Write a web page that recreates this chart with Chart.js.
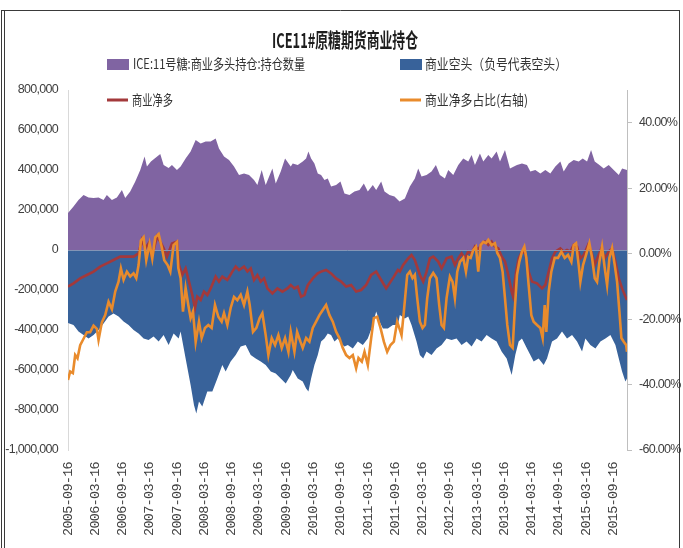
<!DOCTYPE html>
<html><head><meta charset="utf-8">
<script src="https://cdn.jsdelivr.net/npm/chart.js@4.4.1/dist/chart.umd.min.js"></script>
<style>html,body{margin:0;padding:0;background:#fff;}#wrap{position:relative;width:683px;height:548px;}</style>
</head><body><div id="wrap"><canvas id="c" width="683" height="548"></canvas></div>
<script>
// ---- data (x = months since 2005-09-16) ----
const titleText = 'ICE11#原糖期货商业持仓';
const tickDates = ['2005-09-16','2006-03-16','2006-09-16','2007-03-16','2007-09-16','2008-03-16','2008-09-16','2009-03-16','2009-09-16','2010-03-16','2010-09-16','2011-03-16','2011-09-16','2012-03-16','2012-09-16','2013-03-16','2013-09-16','2014-03-16','2014-09-16','2015-03-16','2015-09-16'];
const tickMonths = [0,6,12,18,24,30,36,42,48,54,60,66,72,78,84,90,96,102,108,114,120];
const leftTicks = [-1000000,-800000,-600000,-400000,-200000,0,200000,400000,600000,800000];
const rightTicks = [-60,-40,-20,0,20,40];

const longX = [0,1.21,2.31,3.42,4.52,5.62,6.72,7.82,8.55,9.66,10.76,11.86,12.59,13.69,14.80,15.90,16.85,17.37,18.25,19.20,20.30,21.04,22.14,22.87,23.97,
24.78,25.88,26.98,28.09,29.19,30.29,31.39,32.49,33.22,34.33,35.43,36.53,37.63,38.73,39.83,40.93,41.67,42.62,43.50,44.97,45.71,46.81,47.76,49.01,
49.45,50.55,51.65,52.39,52.90,53.49,54.22,54.96,55.69,56.43,57.16,57.89,58.99,59.95,60.83,61.93,63.03,64.14,65.09,65.97,67.07,67.81,68.91,69.64,70.74,71.84,72.95,
74.12,75.22,76.32,77.06,77.79,78.89,79.99,80.95,81.83,82.93,83.67,84.77,85.87,86.97,88.07,88.81,89.54,90.64,91.38,92.48,93.21,94.31,95.05,96.15,97.25,
98.79,99.89,100.99,101.73,102.83,103.93,105.03,106.13,107.23,108.34,109.07,110.17,111.27,112.37,113.26,114.21,115.09,115.90,116.93,117.88,118.98,120.08,121.19,121.92,123];
const longY = [185000,217000,250000,275000,262000,260000,262000,250000,275000,250000,262000,300000,260000,292000,342000,400000,467000,417000,442000,460000,480000,425000,410000,425000,400000,
417000,458000,492000,550000,533000,542000,542000,558000,508000,467000,450000,417000,375000,383000,375000,350000,325000,400000,325000,408000,333000,392000,458000,417000,
433000,425000,442000,458000,492000,458000,433000,383000,375000,350000,358000,317000,325000,342000,283000,275000,292000,300000,333000,292000,325000,300000,342000,292000,275000,267000,242000,
258000,317000,358000,408000,367000,375000,392000,425000,375000,358000,400000,375000,425000,458000,442000,475000,425000,483000,442000,475000,458000,492000,442000,500000,408000,
425000,433000,425000,392000,400000,383000,400000,383000,417000,442000,392000,433000,450000,442000,458000,442000,500000,442000,425000,408000,425000,400000,375000,408000,400000];

const shortX = [0,1.21,2.31,3.42,4.52,5.62,6.72,7.82,8.92,10.02,11.12,12.23,13.33,14.43,15.53,16.63,17.73,18.83,19.94,21.04,22.14,23.24,24.34,
24.78,25.88,26.98,27.72,28.23,28.82,29.55,30.65,31.76,32.86,33.96,34.69,35.79,36.90,38.00,39.10,40.20,41.30,42.40,43.50,44.61,45.71,46.81,47.91,49.01,
49.45,50.55,51.65,52.39,52.90,53.49,54.22,54.96,55.69,56.43,57.16,57.89,58.63,59.36,60.10,60.83,61.57,62.67,63.77,64.87,65.97,67.07,67.81,68.54,69.28,70.38,71.48,72.58,
73.02,74.12,74.86,75.59,76.69,77.43,78.16,78.89,79.99,81.10,82.20,83.30,84.40,85.50,86.60,87.70,88.81,89.91,91.01,92.11,93.21,94.31,95.41,96.52,97.62,
98.42,99.16,99.89,100.99,101.73,102.46,103.56,104.67,105.40,106.50,107.60,108.70,109.80,110.91,112.01,113.11,113.84,114.94,116.05,117.15,118.25,119.35,120.45,121.19,121.92,122.65,123];
const shortY = [-365000,-375000,-408000,-425000,-442000,-425000,-400000,-367000,-333000,-317000,-333000,-358000,-375000,-400000,-417000,-442000,-450000,-433000,-458000,-425000,-475000,-417000,-442000,
-408000,-542000,-675000,-775000,-817000,-758000,-783000,-708000,-708000,-642000,-575000,-608000,-558000,-525000,-483000,-475000,-525000,-542000,-558000,-575000,-608000,-617000,-642000,-667000,-625000,
-600000,-642000,-658000,-692000,-708000,-642000,-575000,-525000,-458000,-442000,-417000,-425000,-458000,-442000,-467000,-483000,-475000,-492000,-458000,-475000,-442000,-375000,-308000,-358000,-392000,-392000,-375000,-375000,
-325000,-342000,-333000,-375000,-458000,-525000,-542000,-508000,-525000,-492000,-475000,-442000,-450000,-442000,-475000,-458000,-483000,-442000,-458000,-425000,-442000,-458000,-508000,-542000,-625000,
-525000,-458000,-442000,-492000,-525000,-558000,-542000,-575000,-542000,-458000,-442000,-408000,-442000,-425000,-458000,-508000,-442000,-475000,-492000,-458000,-442000,-425000,-475000,-542000,-608000,-658000,-642000];

const netX = [0,1.21,2.68,4.15,5.62,7.09,8.55,10.02,11.49,12.96,14.43,15.53,16.26,16.99,17.73,18.47,19.57,20.30,21.04,21.77,22.87,23.97,
24.41,25.15,25.88,26.62,27.35,27.94,28.45,29.19,29.92,30.66,31.39,32.49,33.22,33.96,35.06,36.16,36.90,37.63,38.73,39.47,40.20,40.93,41.67,42.40,43.14,43.87,44.97,46.07,47.17,48.28,49.01,
49.82,50.55,51.29,52.02,52.76,53.86,54.96,55.69,56.79,57.89,58.99,60.10,61.20,62.30,63.40,64.50,65.60,66.71,67.81,68.91,70.01,70.74,71.70,72.58,
73.02,73.75,74.86,75.59,76.32,77.43,78.16,78.89,79.63,80.36,81.46,82.20,83.30,84.40,85.13,85.87,86.60,87.34,88.07,88.81,89.54,90.27,91.01,91.74,92.48,93.21,93.94,94.68,95.41,96.15,96.88,97.62,97.90,
98.60,99.16,99.89,100.63,101.36,102.10,103.20,104.30,105.03,105.77,106.50,107.23,108.34,109.07,109.80,110.54,111.27,112.01,112.74,113.48,114.43,115.16,115.90,116.63,117.37,118.10,118.98,119.72,120.45,121.19,121.92,122.65,123];
const netY = [-183000,-167000,-142000,-125000,-108000,-83000,-67000,-50000,-33000,-33000,-33000,-17000,50000,8000,33000,-33000,67000,42000,8000,-33000,33000,42000,
-75000,-125000,-92000,-158000,-225000,-292000,-233000,-250000,-208000,-225000,-192000,-133000,-158000,-133000,-150000,-108000,-83000,-100000,-83000,-108000,-92000,-150000,-125000,-158000,-142000,-192000,-217000,-192000,-208000,-192000,-175000,
-192000,-183000,-233000,-225000,-175000,-142000,-117000,-108000,-100000,-117000,-142000,-158000,-183000,-175000,-208000,-200000,-175000,-125000,-108000,-150000,-192000,-167000,-133000,-100000,
-108000,-75000,-42000,-25000,-50000,-125000,-158000,-108000,-42000,-33000,-58000,-92000,-42000,-33000,-75000,-42000,-17000,-42000,-8000,-17000,17000,0,33000,42000,25000,42000,17000,8000,-33000,-58000,-125000,-208000,-230000,
-110000,-42000,-8000,-17000,-108000,-158000,-167000,-192000,-175000,-108000,-42000,-8000,8000,-8000,0,-8000,25000,17000,-42000,-25000,25000,-8000,-75000,-33000,8000,-42000,-8000,8000,-58000,-142000,-192000,-233000,-250000];

const ratioX = [0,0.48,1.07,1.58,2.09,2.68,3.42,4.15,4.88,5.62,6.35,6.72,7.45,8.19,8.92,9.66,10.39,11.12,11.64,12.23,12.96,13.69,14.43,15.02,15.53,16.04,16.63,17.22,17.95,18.54,19.20,19.94,20.67,21.18,21.92,22.51,23.24,23.97,
24.27,24.78,25.30,25.88,26.47,26.98,27.50,28.09,28.82,29.41,30.14,30.88,31.61,32.34,33.08,33.81,34.33,35.06,35.79,36.53,37.26,38.00,38.73,39.47,39.98,40.71,41.45,42.18,42.77,43.50,44.09,44.83,45.56,46.29,47.03,47.76,48.50,49.01,
49.82,50.41,51.14,51.65,52.39,53.12,53.86,54.59,55.32,56.06,56.79,57.53,58.26,59.00,59.73,60.46,61.20,61.93,62.67,63.40,63.92,64.65,65.24,65.97,66.71,67.29,68.03,68.76,69.50,70.23,70.96,71.70,72.43,73.17,73.39,73.90,
74.64,75.22,75.81,76.32,76.84,77.43,78.01,78.53,79.04,79.63,80.36,81.10,81.68,82.20,82.71,83.30,84.03,84.62,85.13,85.65,86.24,86.97,87.56,88.07,88.59,89.17,89.76,90.27,90.79,91.38,91.96,92.48,93.21,93.94,94.46,95.05,95.63,96.15,96.66,97.25,97.84,
98.28,98.79,99.31,99.89,100.41,100.85,101.36,101.95,102.46,103.20,103.93,104.44,104.89,105.25,105.77,106.35,107.09,107.82,108.56,109.29,110.02,110.76,111.27,111.79,112.37,112.74,113.33,113.99,114.72,115.31,115.90,116.41,116.93,117.51,118.10,118.62,119.13,119.72,120.30,120.82,121.33,121.77,122.29,122.80,123];
const ratioY = [-38.6,-36,-36.5,-31,-32,-28,-26,-24,-24,-22,-23,-26.4,-21,-18.8,-14.7,-17,-11.6,-8.6,-4.5,-8,-5.5,-7,-6,-7.5,-3.5,4,5,-2,3,-1.5,5,6,1.7,-2,-3.5,-5.5,2.6,3.6,
-4.4,-7.5,-17.7,-10.5,-15.7,-19.7,-17.7,-27,-20.8,-25.8,-22.7,-21.8,-22.7,-15.7,-19.3,-20.8,-18.2,-21.8,-16.6,-13.2,-14.2,-12.6,-15.7,-11.6,-15.7,-23.9,-22.7,-19.7,-18.2,-24.9,-31,-25.8,-27.9,-24.9,-28.8,-25.8,-30,-23.9,
-30,-23.9,-26.9,-28.8,-25.8,-26.9,-22.7,-20.8,-18.8,-17.2,-15.7,-18.8,-20.8,-23.9,-25.8,-28.8,-31,-31.9,-31,-35,-31.9,-33,-30,-34,-25.8,-19.7,-19.3,-22.7,-26.9,-30,-27.9,-26.9,-20.8,-23.9,-24.9,-17.7,
-6.5,-5.5,-7.5,-6.5,-13.6,-20.8,-22.7,-21.8,-13.6,-7.5,-5.9,-7.5,-15.7,-21.8,-22.7,-13.6,-7,-8.6,-13.6,-5.5,-2.5,-1.3,-5.5,-1,-1.3,1.1,2.1,-5.5,2.6,3.6,3.2,4.2,2.6,3.2,0.2,-1.3,-5.5,-13.6,-21.8,-27.9,-28.8,
-17.7,-6.5,-2.5,0.6,2.1,-1.3,-9.6,-18.8,-20.8,-21.8,-22.7,-25.8,-15.7,-23.9,-11.6,-5.5,-1.3,-1.3,0.6,-1.3,-0.4,-2.5,2.6,3.2,-3.5,-8.6,-3.5,-0.4,3.2,-1.3,-7.5,-8.6,-2.5,2.1,-4.4,-9.6,-1.3,1.7,-3.5,-8.6,-17.7,-25.8,-26.9,-27.9,-30];

const seriesNames = ['ICE:11号糖:商业多头持仓:持仓数量','商业空头（负号代表空头）','商业净多','商业净多占比(右轴)'];

// ---- styles ----
const C_LONG = '#8064A2', C_SHORT = '#38629A', C_NET = '#A3393B', C_RATIO = '#E98B2C';
const TXT = '#404040';
const NUMFONT = "'Liberation Sans',Arial,sans-serif";
const CJK = "'Noto Sans CJK SC','Noto Sans',sans-serif";

function pts(xs, ys){ return xs.map((x,i)=>({x:x, y:ys[i]})); }

function fitText(ctx, text, x, y, font, w, color, align){
  ctx.save();
  ctx.font = font;
  const m = ctx.measureText(text).width;
  const s = w / m;
  ctx.translate(x, y);
  ctx.scale(s, 1);
  ctx.textBaseline = 'middle';
  ctx.textAlign = align || 'left';
  ctx.fillStyle = color;
  ctx.fillText(text, 0, 0);
  ctx.restore();
}

const legendItems = [
  {i:0, kind:'box', x:107, y:64, tx:133, tw:172},
  {i:1, kind:'box', x:400, y:64, tx:425, tw:142},
  {i:2, kind:'line', x:107, y:100, tx:132, tw:41},
  {i:3, kind:'line', x:400, y:100, tx:425, tw:103}
];
const legendColors = [C_LONG, C_SHORT, C_NET, C_RATIO];

const deco = {
  id:'deco',
  beforeDraw(chart){
    // condensed look for the value-axis labels (drawn before the datasets)
    if ('letterSpacing' in chart.ctx) chart.ctx.letterSpacing = '-0.7px';
  },
  afterDatasetDraw(chart, args){
    if (args.index === 1) {
      const ctx = chart.ctx, a = chart.chartArea;
      const y0 = Math.round(chart.scales.y.getPixelForValue(0)) + 0.5;
      ctx.save();
      ctx.strokeStyle = 'rgba(140,155,185,0.9)';
      ctx.lineWidth = 1;
      ctx.beginPath(); ctx.moveTo(a.left, y0); ctx.lineTo(a.right, y0); ctx.stroke();
      ctx.restore();
    }
  },
  afterDatasetsDraw(chart){
    if ('letterSpacing' in chart.ctx) chart.ctx.letterSpacing = '0px';
  },
  afterDraw(chart){
    const ctx = chart.ctx;
    ctx.save();
    ctx.strokeStyle = '#3a3a3a'; ctx.lineWidth = 1;
    ctx.beginPath();
    ctx.moveTo(1.5, 10); ctx.lineTo(1.5, 548);
    ctx.moveTo(4.5, 10); ctx.lineTo(4.5, 548);
    ctx.moveTo(1, 10.5); ctx.lineTo(680, 10.5);
    ctx.moveTo(679.5, 10); ctx.lineTo(679.5, 548);
    ctx.stroke();
    ctx.restore();
    fitText(ctx, titleText, 345, 40, "bold 20px " + CJK, 146, '#1e1e1e', 'center');
    legendItems.forEach(it => {
      ctx.save();
      ctx.fillStyle = legendColors[it.i];
      if (it.kind === 'box') ctx.fillRect(it.x, it.y - 5, 22, 11);
      else ctx.fillRect(it.x, it.y - 1.5, 21, 3);
      ctx.restore();
      fitText(ctx, chart.data.datasets.find(d => d.legendIndex === it.i).label, it.tx, it.y, "14px " + CJK, it.tw, '#333333', 'left');
    });
  }
};

new Chart(document.getElementById('c'), {
  type: 'line',
  data: {
    datasets: [
      {label: seriesNames[3], legendIndex:3, data: pts(ratioX, ratioY), yAxisID:'y2', borderColor:C_RATIO, borderWidth:2.6, pointRadius:0, fill:false, order:0, tension:0},
      {label: seriesNames[2], legendIndex:2, data: pts(netX, netY), yAxisID:'y', borderColor:C_NET, borderWidth:2.6, pointRadius:0, fill:false, order:1, tension:0},
      {label: seriesNames[1], legendIndex:1, data: pts(shortX, shortY), yAxisID:'y', borderColor:'rgba(0,0,0,0)', borderWidth:0, backgroundColor:C_SHORT, fill:'origin', pointRadius:0, order:2},
      {label: seriesNames[0], legendIndex:0, data: pts(longX, longY), yAxisID:'y', borderColor:'rgba(0,0,0,0)', borderWidth:0, backgroundColor:C_LONG, fill:'origin', pointRadius:0, order:3}
    ]
  },
  options: {
    responsive:false, animation:false,
    layout:{padding:{top:90, left:0, right:0, bottom:0}},
    plugins:{legend:{display:false}, title:{display:false}, tooltip:{enabled:false}},
    scales:{
      x:{type:'linear', min:0, max:123, z:1,
        afterBuildTicks: s => { s.ticks = tickMonths.map(v => ({value:v})); },
        afterFit: s => { s.height = 98; },
        ticks:{autoSkip:false, minRotation:90, maxRotation:90, padding:12, color:TXT,
          font:{family:"'Liberation Mono','DejaVu Sans Mono',monospace", size:13.5},
          callback:(v,i) => tickDates[i]},
        grid:{display:false, drawTicks:false}, border:{display:false}},
      y:{position:'left', min:-1000000, max:800000,
        afterBuildTicks: s => { s.ticks = leftTicks.map(v => ({value:v})); },
        afterFit: s => { s.width = 68; },
        ticks:{padding:10, color:TXT, font:{family:NUMFONT, size:12.5},
          callback: v => v.toLocaleString('en-US')},
        grid:{display:true, drawOnChartArea:false, drawTicks:false, color:'#d9d9d9'},
        border:{display:true, color:'#d9d9d9', width:1}},
      y2:{position:'right', min:-60, max:50,
        afterBuildTicks: s => { s.ticks = rightTicks.map(v => ({value:v})); },
        afterFit: s => { s.width = 56; },
        ticks:{padding:7, color:TXT, font:{family:NUMFONT, size:12.5},
          callback: v => v.toFixed(2) + '%'},
        grid:{display:true, drawOnChartArea:false, drawTicks:true, tickLength:5, color:'#bfbfbf'},
        border:{display:true, color:'#bfbfbf', width:1}}
    }
  },
  plugins:[deco]
});
</script>
</body></html>
